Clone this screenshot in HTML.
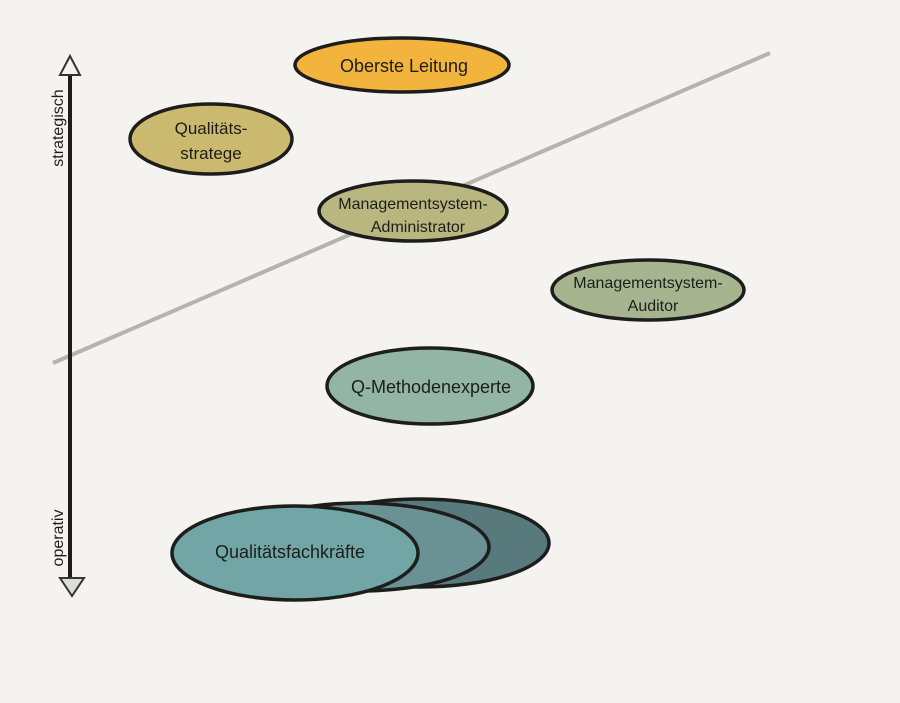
<!DOCTYPE html>
<html><head><meta charset="utf-8"><style>
html,body{margin:0;padding:0;background:#f4f3f0;}
svg{display:block;}
text{font-family:"Liberation Sans","DejaVu Sans",sans-serif;fill:#1d1d1b;}
</style></head><body>
<svg width="900" height="703" viewBox="0 0 900 703" xmlns="http://www.w3.org/2000/svg">
<rect width="900" height="703" fill="#f4f3f0"/>
<line x1="53" y1="363" x2="770" y2="53" stroke="#b7b3ac" stroke-width="4"/>
<line x1="70" y1="75" x2="70" y2="578" stroke="#1d1d1b" stroke-width="4"/>
<polygon points="70,56 60,75 80,75" fill="#f4f3f0" stroke="#333" stroke-width="2"/>
<polygon points="60,578 84,578 72,596" fill="#dcdcda" stroke="#333" stroke-width="2"/>
<text transform="translate(63,128) rotate(-90)" text-anchor="middle" font-size="16">strategisch</text>
<text transform="translate(63,538) rotate(-90)" text-anchor="middle" font-size="16">operativ</text>
<g stroke="#1d1d1b" stroke-width="3.5">
<ellipse cx="402" cy="65" rx="107" ry="27" fill="#f3b43e"/>
<ellipse cx="211" cy="139" rx="81" ry="35" fill="#cbb96f"/>
<ellipse cx="413" cy="211" rx="94" ry="30" fill="#b9b67f"/>
<ellipse cx="648" cy="290" rx="96" ry="30" fill="#a6b58f"/>
<ellipse cx="430" cy="386" rx="103" ry="38" fill="#93b5a5"/>
<ellipse cx="420" cy="543" rx="129" ry="44" fill="#587a7c"/>
<ellipse cx="360" cy="547" rx="129" ry="44" fill="#6a9194"/>
<ellipse cx="295" cy="553" rx="123" ry="47" fill="#72a5a6"/>
</g>
<text x="404" y="72" text-anchor="middle" font-size="18">Oberste Leitung</text>
<text x="211" y="134" text-anchor="middle" font-size="17">Qualitäts-</text>
<text x="211" y="159" text-anchor="middle" font-size="17">stratege</text>
<text x="413" y="209" text-anchor="middle" font-size="16">Managementsystem-</text>
<text x="418" y="232" text-anchor="middle" font-size="16">Administrator</text>
<text x="648" y="288" text-anchor="middle" font-size="16">Managementsystem-</text>
<text x="653" y="311" text-anchor="middle" font-size="16">Auditor</text>
<text x="431" y="393" text-anchor="middle" font-size="18">Q-Methodenexperte</text>
<text x="290" y="558" text-anchor="middle" font-size="18">Qualitätsfachkräfte</text>
</svg>
</body></html>
